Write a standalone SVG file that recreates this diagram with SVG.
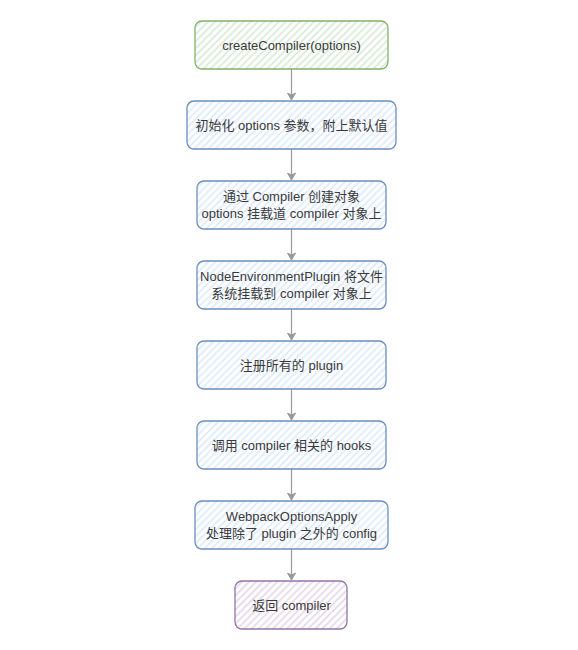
<svg xmlns="http://www.w3.org/2000/svg" width="578" height="650" viewBox="0 0 578 650">
<defs>
<pattern id="hg" width="5" height="5" patternUnits="userSpaceOnUse" patternTransform="rotate(-45)"><rect width="5" height="5" fill="#ffffff"/><line x1="0" y1="2.5" x2="5" y2="2.5" stroke="#d5e8d4" stroke-width="1.6"/></pattern>
<pattern id="hb" width="5" height="5" patternUnits="userSpaceOnUse" patternTransform="rotate(-45)"><rect width="5" height="5" fill="#ffffff"/><line x1="0" y1="2.5" x2="5" y2="2.5" stroke="#dae8fc" stroke-width="1.6"/></pattern>
<pattern id="hp" width="5" height="5" patternUnits="userSpaceOnUse" patternTransform="rotate(-45)"><rect width="5" height="5" fill="#ffffff"/><line x1="0" y1="2.5" x2="5" y2="2.5" stroke="#e1d5e7" stroke-width="1.6"/></pattern>
<marker id="arr" markerWidth="10" markerHeight="10" refX="8" refY="5" orient="auto" markerUnits="userSpaceOnUse"><path d="M1,1 L8,5 L1,9 L3,5 Z" fill="#999999" stroke="#999999" stroke-width="1"/></marker>
</defs>
<style>
.g{fill:url(#hg);stroke:#82b366;stroke-width:1.3}
.b{fill:url(#hb);stroke:#6c8ebf;stroke-width:1.3}
.p{fill:url(#hp);stroke:#9673a6;stroke-width:1.3}
.t{font-family:"Liberation Sans","Noto Sans CJK SC",sans-serif;font-size:13px;fill:#3a3a3a;text-anchor:middle}
.c{stroke:#999999;stroke-width:1.2;fill:none}
</style>
<g id="connectors">
<line class="c" x1="291.5" y1="69" x2="291.5" y2="100" marker-end="url(#arr)"/>
<line class="c" x1="291.5" y1="149" x2="291.5" y2="180" marker-end="url(#arr)"/>
<line class="c" x1="291.5" y1="229" x2="291.5" y2="260" marker-end="url(#arr)"/>
<line class="c" x1="291.5" y1="309" x2="291.5" y2="340" marker-end="url(#arr)"/>
<line class="c" x1="291.5" y1="389" x2="291.5" y2="420" marker-end="url(#arr)"/>
<line class="c" x1="291.5" y1="469" x2="291.5" y2="500" marker-end="url(#arr)"/>
<line class="c" x1="291.5" y1="549" x2="291.5" y2="580" marker-end="url(#arr)"/>
</g>
<g id="n1"><rect class="g" x="195" y="21" width="193" height="48" rx="7"/><text class="t" x="291.5" y="50">createCompiler(options)</text></g>
<g id="n2"><rect class="b" x="187" y="101" width="209" height="48" rx="7"/><text class="t" x="291.5" y="130">初始化 options 参数，附上默认值</text></g>
<g id="n3"><rect class="b" x="197" y="181" width="189" height="48" rx="7"/><text class="t" x="291.5" y="201">通过 Compiler 创建对象</text><text class="t" x="291.5" y="218">options 挂载道 compiler 对象上</text></g>
<g id="n4"><rect class="b" x="197" y="261" width="189" height="48" rx="7"/><text class="t" x="291.5" y="281">NodeEnvironmentPlugin 将文件</text><text class="t" x="291.5" y="298">系统挂载到 compiler 对象上</text></g>
<g id="n5"><rect class="b" x="197" y="341" width="189" height="48" rx="7"/><text class="t" x="291.5" y="370">注册所有的 plugin</text></g>
<g id="n6"><rect class="b" x="197" y="421" width="189" height="48" rx="7"/><text class="t" x="291.5" y="450">调用 compiler 相关的 hooks</text></g>
<g id="n7"><rect class="b" x="195" y="501" width="193" height="48" rx="7"/><text class="t" x="291.5" y="521">WebpackOptionsApply</text><text class="t" x="291.5" y="538">处理除了 plugin 之外的 config</text></g>
<g id="n8"><rect class="p" x="235" y="581" width="112" height="48" rx="7"/><text class="t" x="291.5" y="610">返回 compiler</text></g>
</svg>
